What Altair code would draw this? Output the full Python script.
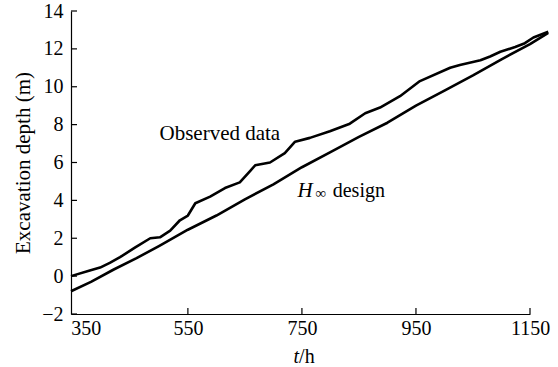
import altair as alt
import pandas as pd

# Observed data series
obs_t = [345, 378, 396, 413, 431, 457, 484, 501, 519, 536, 550, 563, 589, 615, 641, 659, 668,
         694, 720, 738, 764, 799, 834, 861, 887, 922, 957, 1010, 1027, 1063, 1080, 1098, 1124,
         1141, 1156, 1182]
obs_y = [0.0, 0.3, 0.45, 0.7, 1.0, 1.5, 2.0, 2.05, 2.4, 2.95, 3.2, 3.85, 4.2, 4.65, 4.95, 5.55,
         5.85, 6.0, 6.5, 7.1, 7.3, 7.65, 8.05, 8.6, 8.9, 9.5, 10.3, 11.0, 11.15, 11.4, 11.6,
         11.85, 12.1, 12.3, 12.6, 12.9]

# H-infinity design series
des_t = [345, 380, 420, 460, 500, 550, 600, 650, 700, 750, 800, 850, 900, 950, 1000, 1050,
         1100, 1150, 1182]
des_y = [-0.80, -0.30, 0.35, 0.95, 1.60, 2.45, 3.20, 4.05, 4.85, 5.75, 6.55, 7.35, 8.10,
         9.00, 9.80, 10.60, 11.45, 12.25, 12.85]

x_ticks = [350, 550, 750, 950, 1150]
y_ticks = [-2, 0, 2, 4, 6, 8, 10, 12, 14]

W, H = 459, 303
FONT = "Liberation Serif"

df = pd.concat([
    pd.DataFrame({"t": obs_t, "y": obs_y, "s": "Observed data"}),
    pd.DataFrame({"t": des_t, "y": des_y, "s": "H design"}),
])

xs = alt.Scale(domain=[345, 1150], nice=False, zero=False)
ys = alt.Scale(domain=[-2, 14], nice=False, zero=False)

xaxis = alt.Axis(
    values=x_ticks, format="d", ticks=False, grid=False, domainColor="black", domainWidth=1.2,
    labelFont=FONT, labelFontSize=20, labelColor="black", labelPadding=4, labelOverlap=False,
    labelFlush=False,
    labelAlign={"condition": {"test": "datum.value == 350", "value": "left"}, "value": "center"},
    labelOffset={"condition": {"test": "datum.value == 350", "value": -3}, "value": 0},
    title="")
yaxis = alt.Axis(
    values=y_ticks, format="d", ticks=False, grid=False, domainColor="black", domainWidth=1.2,
    labelFont=FONT, labelFontSize=20, labelColor="black", labelPadding=8, labelOverlap=False,
    labelFlush=False,
    title="Excavation depth (m)", titleFont=FONT, titleFontSize=21,
    titleFontWeight="normal", titleColor="black", titlePadding=8)


def X(f):
    return alt.X(f, scale=xs, axis=xaxis)


def Y(f):
    return alt.Y(f, scale=ys, axis=yaxis)


lines = alt.Chart(df).mark_line(color="black", strokeWidth=2.6, strokeJoin="round").encode(
    x=X("t:Q"), y=Y("y:Q"), detail="s:N")

ytick = alt.Chart(pd.DataFrame({"v": y_ticks})).mark_rule(color="black", strokeWidth=1.2).encode(
    y=Y("v:Q"), x=alt.value(0), x2=alt.value(6))
xtick = alt.Chart(pd.DataFrame({"v": x_ticks[1:]})).mark_rule(color="black", strokeWidth=1.2).encode(
    x=X("v:Q"), y=alt.value(H), y2=alt.value(H - 6))

# annotations
ann = pd.DataFrame({"t": [606], "y": [7.19], "txt": ["Observed data"]})
obs_lab = alt.Chart(ann).mark_text(font=FONT, fontSize=21, color="black",
                                   baseline="alphabetic").encode(
    x=X("t:Q"), y=Y("y:Q"), text="txt:N")

des_ann = pd.DataFrame({"t": [790], "y": [4.19]})
h_lab = alt.Chart(des_ann).mark_text(font=FONT, fontSize=21, fontStyle="italic", color="black",
                                       align="right", baseline="alphabetic", dx=-12).encode(
    x=X("t:Q"), y=Y("y:Q"), text=alt.value("H"))
inf_lab = alt.Chart(des_ann).mark_text(font=FONT, fontSize=15, color="black",
                                         align="center", baseline="alphabetic", dx=-4, dy=1).encode(
    x=X("t:Q"), y=Y("y:Q"), text=alt.value("∞"))
des_lab = alt.Chart(des_ann).mark_text(font=FONT, fontSize=20, color="black",
                                         align="left", baseline="alphabetic", dx=8).encode(
    x=X("t:Q"), y=Y("y:Q"), text=alt.value("design"))

xt = pd.DataFrame({"t": [745]})
t_lab = alt.Chart(xt).mark_text(font=FONT, fontSize=20, fontStyle="italic", color="black",
                                 align="right", baseline="alphabetic").encode(
    x=X("t:Q"), y=alt.value(H + 49), text=alt.value("t"))
h2_lab = alt.Chart(xt).mark_text(font=FONT, fontSize=20, color="black",
                                  align="left", baseline="alphabetic").encode(
    x=X("t:Q"), y=alt.value(H + 49), text=alt.value("/h"))

chart = alt.layer(lines, ytick, xtick, obs_lab, h_lab, inf_lab, des_lab, t_lab, h2_lab).properties(
    width=W, height=H,
    autosize=alt.AutoSizeParams(type="none"),
    padding={"left": 71, "top": 11, "right": 28, "bottom": 53},
    background="white",
).configure(font=FONT).configure_view(stroke=None).configure_axis(
    labelFont=FONT, titleFont=FONT, labelFontSize=20, titleFontSize=21, labelColor="black",
    titleColor="black", titleFontWeight="normal")

chart.save("out.html", embed_options={"renderer": "svg", "actions": False})
